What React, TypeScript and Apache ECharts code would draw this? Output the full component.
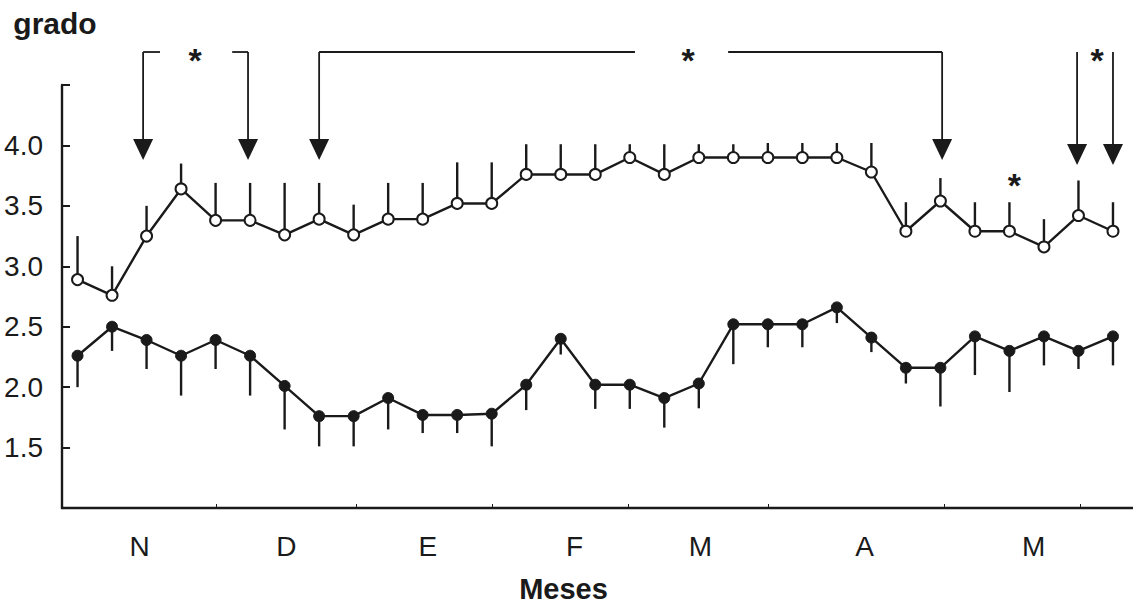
import React, { useEffect, useRef } from "react";
import * as echarts from "echarts";

// weekly samples (index along x)
const weekIndex = [0,1,2,3,4,5,6,7,8,9,10,11,12,13,14,15,16,17,18,19,20,21,22,23,24,25,26,27,28,29,30];

// upper series (open circles): mean and upper end of error bar
const upperMean = [2.89,2.76,3.25,3.64,3.38,3.38,3.26,3.39,3.26,3.39,3.39,3.52,3.52,3.76,3.76,3.76,3.90,3.76,3.90,3.90,3.90,3.90,3.90,3.78,3.29,3.54,3.29,3.29,3.16,3.42,3.29];
const upperTop = [3.25,3.0,3.5,3.85,3.69,3.69,3.69,3.69,3.51,3.69,3.69,3.86,3.86,4.01,4.01,4.01,4.01,4.01,4.01,4.01,4.02,4.02,4.02,4.02,3.53,3.73,3.53,3.53,3.39,3.71,3.53];

// lower series (filled circles): mean and lower end of error bar
const lowerMean = [2.26,2.50,2.39,2.26,2.39,2.26,2.01,1.76,1.76,1.91,1.77,1.77,1.78,2.02,2.40,2.02,2.02,1.91,2.03,2.52,2.52,2.52,2.66,2.41,2.16,2.16,2.42,2.30,2.42,2.30,2.42];
const lowerBottom = [2.0,2.30,2.15,1.93,2.15,1.93,1.65,1.51,1.51,1.65,1.62,1.62,1.51,1.81,2.27,1.82,1.82,1.665,1.825,2.19,2.33,2.33,2.53,2.29,2.03,1.84,2.10,1.96,2.18,2.15,2.18];

// month labels (x positions in week units) and month boundary ticks
const monthNames = ["N","D","E","F","M","A","M"];
const monthLabelPos = [1.8,6.05,10.15,14.4,18.05,22.8,27.7];
const monthTickPos = [4.03,8.08,12.03,15.97,20.0,25.1,29.05];

// y tick labels shown
const yLabelValues = [1.5,2.0,2.5,3.0,3.5,4.0];

// significance annotations (in data units)
const bracketLines: number[][][] = [
  [[2.39,4.773],[1.90,4.773]],
  [[1.90,4.773],[1.90,3.90]],
  [[4.48,4.773],[4.94,4.773]],
  [[4.94,4.773],[4.94,3.90]],
  [[7.0,3.90],[7.0,4.773]],
  [[7.0,4.773],[16.15,4.773]],
  [[18.85,4.773],[25.05,4.773]],
  [[25.05,4.773],[25.05,3.90]],
  [[28.96,4.773],[28.96,3.86]],
  [[30.0,4.773],[30.0,3.86]],
];
// arrow tips
const arrowTips = [[1.90,3.880],[4.94,3.880],[7.0,3.880],[25.05,3.880],[28.96,3.839],[30.0,3.839]];
const stars = [[3.41,4.748],[17.69,4.748],[29.54,4.748],[27.14,3.715]];

const INK = "#1a1a1a";
const FONT = "'Liberation Sans', Arial, sans-serif";

export default function App() {
  const ref = useRef<HTMLDivElement>(null);
  useEffect(() => {
    if (!ref.current) return;
    const chart = echarts.init(ref.current, undefined, { renderer: "svg" });
    const upperData = weekIndex.map((w, i) => [w, upperMean[i]]);
    const lowerData = weekIndex.map((w, i) => [w, lowerMean[i]]);
    const errUpper = weekIndex.map((w, i) => [w, upperMean[i], upperTop[i]]);
    const errLower = weekIndex.map((w, i) => [w, lowerMean[i], lowerBottom[i]]);
    const errRender = (params: any, api: any) => {
      const p1 = api.coord([api.value(0), api.value(1)]);
      const p2 = api.coord([api.value(0), api.value(2)]);
      return {
        type: "line",
        shape: { x1: p1[0], y1: p1[1], x2: p2[0], y2: p2[1] },
        style: { stroke: INK, lineWidth: 2.4 },
      };
    };
    chart.setOption({
      animation: false,
      backgroundColor: "#fff",
      grid: { left: 62, right: 0, top: 85, bottom: 99.5, containLabel: false },
      xAxis: {
        type: "value",
        min: -0.45,
        max: 30.58,
        splitLine: { show: false },
        axisLine: { show: true, onZero: false, lineStyle: { color: INK, width: 2.4 } },
        axisTick: {
          show: true, inside: true, length: 4,
          customValues: monthTickPos,
          lineStyle: { color: INK, width: 1 },
        },
        axisLabel: {
          customValues: monthLabelPos,
          margin: 24,
          fontSize: 28,
          fontFamily: FONT,
          color: INK,
          formatter: (v: number) => {
            const k = monthLabelPos.findIndex((p) => Math.abs(p - v) < 1e-6);
            return k >= 0 ? monthNames[k] : "";
          },
        },
        name: "Meses",
        nameLocation: "middle",
        nameGap: 66,
        nameTextStyle: {
          fontSize: 29, fontWeight: "bold", fontFamily: FONT, color: INK,
          padding: [0, 68, 0, 0],
        },
      },
      yAxis: {
        type: "value",
        min: 1,
        max: 4.5,
        interval: 0.5,
        splitLine: { show: false },
        axisLine: { show: true, onZero: false, lineStyle: { color: INK, width: 2.4 } },
        axisTick: { show: true, inside: true, length: 8, lineStyle: { color: INK, width: 2 } },
        axisLabel: {
          margin: 19,
          fontSize: 28,
          fontFamily: FONT,
          color: INK,
          formatter: (v: number) => {
            const k = yLabelValues.findIndex((p) => Math.abs(p - v) < 1e-6);
            return k >= 0 ? yLabelValues[k].toFixed(1) : "";
          },
        },
        name: "grado",
        nameLocation: "end",
        nameGap: 47,
        nameTextStyle: {
          fontSize: 30, fontWeight: "bold", fontFamily: FONT, color: INK,
          padding: [0, 14, 0, 0],
        },
      },
      series: [
        {
          type: "custom",
          name: "errUpper",
          renderItem: errRender,
          data: errUpper,
          encode: { x: 0, y: [1, 2] },
          z: 1,
          silent: true,
        },
        {
          type: "custom",
          name: "errLower",
          renderItem: errRender,
          data: errLower,
          encode: { x: 0, y: [1, 2] },
          z: 1,
          silent: true,
        },
        {
          type: "line",
          name: "upper",
          data: upperData,
          z: 3,
          symbol: "circle",
          symbolSize: 11,
          lineStyle: { color: INK, width: 2.4 },
          itemStyle: { color: "#fff", borderColor: INK, borderWidth: 2 },
        },
        {
          type: "line",
          name: "lower",
          data: lowerData,
          z: 3,
          symbol: "circle",
          symbolSize: 11,
          lineStyle: { color: INK, width: 2.4 },
          itemStyle: { color: INK, borderColor: INK, borderWidth: 1 },
        },
      ],
    });

    // annotations placed through the axes' own scales
    const px = (c: number[]) => chart.convertToPixel({ gridIndex: 0 }, c) as number[];
    const graphic: any[] = [];
    bracketLines.forEach((seg) => {
      const a = px(seg[0]);
      const b = px(seg[1]);
      graphic.push({
        type: "line",
        shape: { x1: a[0], y1: a[1], x2: b[0], y2: b[1] },
        style: { stroke: INK, lineWidth: 1.8 },
        silent: true,
        z: 10,
      });
    });
    arrowTips.forEach((c) => {
      const p = px(c);
      graphic.push({
        type: "polygon",
        shape: { points: [[p[0] - 10, p[1] - 21], [p[0] + 10, p[1] - 21], [p[0], p[1]]] },
        style: { fill: INK },
        silent: true,
        z: 11,
      });
    });
    stars.forEach((c) => {
      const p = px(c);
      graphic.push({
        type: "text",
        x: p[0],
        y: p[1] + 5,
        style: {
          text: "*",
          fontSize: 34,
          fontWeight: "bold",
          fontFamily: FONT,
          fill: INK,
          align: "center",
          verticalAlign: "middle",
        },
        silent: true,
        z: 11,
      });
    });
    chart.setOption({ graphic });

    return () => chart.dispose();
  }, []);
  return (
    <div
      ref={ref}
      style={{ position: "absolute", left: 0, top: 0, width: 1133, height: 608, background: "#fff" }}
    />
  );
}
